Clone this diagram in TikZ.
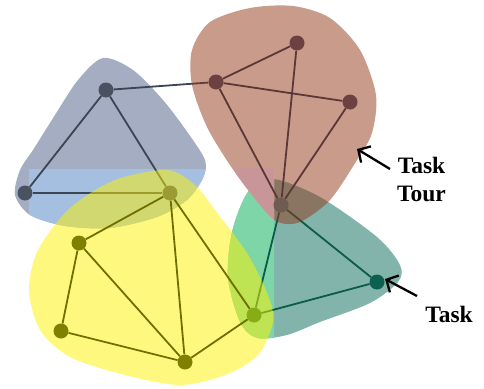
\documentclass[tikz,border=0pt]{standalone}
\usepackage{fontspec}
\setmainfont{Liberation Serif}
\usetikzlibrary{arrows.meta}
\definecolor{blueA}{HTML}{A4ADC2}
\definecolor{blueB}{HTML}{A4BFDF}
\definecolor{greenA}{HTML}{82B4AC}
\definecolor{greenB}{HTML}{7DD5A8}
\definecolor{brownbase}{HTML}{913717}
\definecolor{pinkbase}{HTML}{932D35}
\definecolor{bnodec}{HTML}{4A5261}
\definecolor{rnodec}{HTML}{6C4141}
\definecolor{r4nodec}{HTML}{6E5C52}
\definecolor{gnodec}{HTML}{0D5F4F}
\definecolor{ynodec}{HTML}{7F7F00}
\definecolor{y0nodec}{HTML}{9B9B35}
\definecolor{ygnodec}{HTML}{88AC14}
\definecolor{bedgec}{HTML}{3C4554}
\definecolor{redgec}{HTML}{5B3838}
\definecolor{gedgec}{HTML}{0A5B48}
\definecolor{yedgec}{HTML}{6F6F00}
\pgfdeclarelayer{lblue}
\pgfdeclarelayer{lgreen}
\pgfdeclarelayer{lbrown}
\pgfdeclarelayer{lyellow}
\pgfdeclarelayer{lyedge}
\pgfsetlayers{lblue,lgreen,lbrown,lyellow,lyedge,main}
\begin{document}
\begin{tikzpicture}[x=1pt,y=-1pt,
  vtx/.style={circle,inner sep=0pt,minimum size=15pt},
  bedge/.style={draw=bedgec,line width=1.8pt},
  redge/.style={draw=redgec,line width=1.8pt},
  gedge/.style={draw=gedgec,line width=1.8pt},
  yedge/.style={draw=yedgec,line width=1.8pt},
  lbl/.style={font=\fontsize{23.5}{28}\selectfont\bfseries,anchor=base,inner sep=0pt},
  callout/.style={draw=black,line width=2.3pt,-{Straight Barb[length=9pt,width=19pt,line width=2.3pt]}}]
\useasboundingbox (0,0) rectangle (484,388);
% vertices
\node[vtx,fill=bnodec] (b1) at (106,90) {};
\node[vtx,fill=bnodec] (b2) at (25,193) {};
\node[vtx,fill=y0nodec] (y0) at (170,193) {};
\node[vtx,fill=rnodec] (r1) at (216,82) {};
\node[vtx,fill=rnodec] (r2) at (297,43) {};
\node[vtx,fill=rnodec] (r3) at (350,102) {};
\node[vtx,fill=r4nodec] (r4) at (281,205) {};
\node[vtx,fill=gnodec] (g1) at (377,282) {};
\node[vtx,fill=ygnodec] (yg) at (254,315) {};
\node[vtx,fill=ynodec] (y1) at (79,243) {};
\node[vtx,fill=ynodec] (y2) at (61,331) {};
\node[vtx,fill=ynodec] (y3) at (185,362) {};
% blob outlines
\path[save path=\blueblob] plot[smooth cycle] coordinates {(103,58) (133,70) (163,100) (188,133) (205,160) (203,178) (187,200) (157,217) (110,228) (65,226) (30,215) (15,195) (20,170) (33,150) (55,115) (78,80)};
\path[save path=\greenblob] plot[smooth cycle] coordinates {(273,179) (320,197) (377,237) (400,265) (398,282) (370,303) (320,322) (287,335) (257,338) (240,322) (228,278) (232,232) (248,192)};
\path[save path=\brownblob] plot[smooth cycle] coordinates {(293,6) (330,18) (360,50) (376,95) (372,133) (357,160) (330,200) (300,222) (278,222) (260,205) (232,168) (207,127) (192,85) (192,50) (210,22) (250,8)};
\path[save path=\yellowblob] plot[smooth cycle] coordinates {(167,170) (195,185) (215,210) (247,253) (268,295) (273,322) (258,355) (225,375) (180,385) (125,375) (70,357) (40,330) (29,290) (38,250) (70,208) (115,180)};
% blue group
\begin{pgfonlayer}{lblue}
\fill[blueA,use path=\blueblob];
\begin{scope}
\clip (29,169) rectangle (484,388);
\fill[blueB,use path=\blueblob];
\end{scope}
\draw[bedge] (b1) -- (b2);
\draw[bedge] (b1) -- (y0);
\draw[bedge] (b2) -- (y0);
\draw[bedge] (b1) -- (r1);
\end{pgfonlayer}
% green group
\begin{pgfonlayer}{lgreen}
\fill[greenA,use path=\greenblob];
\begin{scope}
\clip (0,0) rectangle (274,388);
\fill[greenB,use path=\greenblob];
\end{scope}
\draw[gedge] (r4) -- (g1);
\draw[gedge] (g1) -- (yg);
\draw[gedge] (r4) -- (yg);
\end{pgfonlayer}
% brown group
\begin{pgfonlayer}{lbrown}
\fill[brownbase,fill opacity=0.5,use path=\brownblob];
\begin{scope}
\clip (235,168) rectangle (274,240);
\fill[white,use path=\brownblob];
\fill[pinkbase,fill opacity=0.5,use path=\brownblob];
\end{scope}
\draw[redge] (r1) -- (r2);
\draw[redge] (r1) -- (r3);
\draw[redge] (r2) -- (r4);
\draw[redge] (r3) -- (r4);
\draw[redge] (r1) -- (r4);
\end{pgfonlayer}
% yellow group
\begin{pgfonlayer}{lyellow}
\fill[yellow,fill opacity=0.5,use path=\yellowblob];
\end{pgfonlayer}
\begin{pgfonlayer}{lyedge}
\draw[yedge] (y0) -- (y1);
\draw[yedge] (y1) -- (y2);
\draw[yedge] (y1) -- (y3);
\draw[yedge] (y2) -- (y3);
\draw[yedge] (y0) -- (y3);
\draw[yedge] (y0) -- (yg);
\draw[yedge] (y3) -- (yg);
\end{pgfonlayer}
% labels and callouts
\node[lbl] (tt1) at (421.5,173) {Task};
\node[lbl] (tt2) at (421.5,201) {Tour};
\node[lbl] (tk) at (449,322) {Task};
\coordinate (ttfrom) at (390,169);
\coordinate (ttto) at (357,149);
\coordinate (tkfrom) at (417,296);
\coordinate (tkto) at (385,279);
\draw[callout] (ttfrom) -- (ttto);
\draw[callout] (tkfrom) -- (tkto);
\end{tikzpicture}
\end{document}
